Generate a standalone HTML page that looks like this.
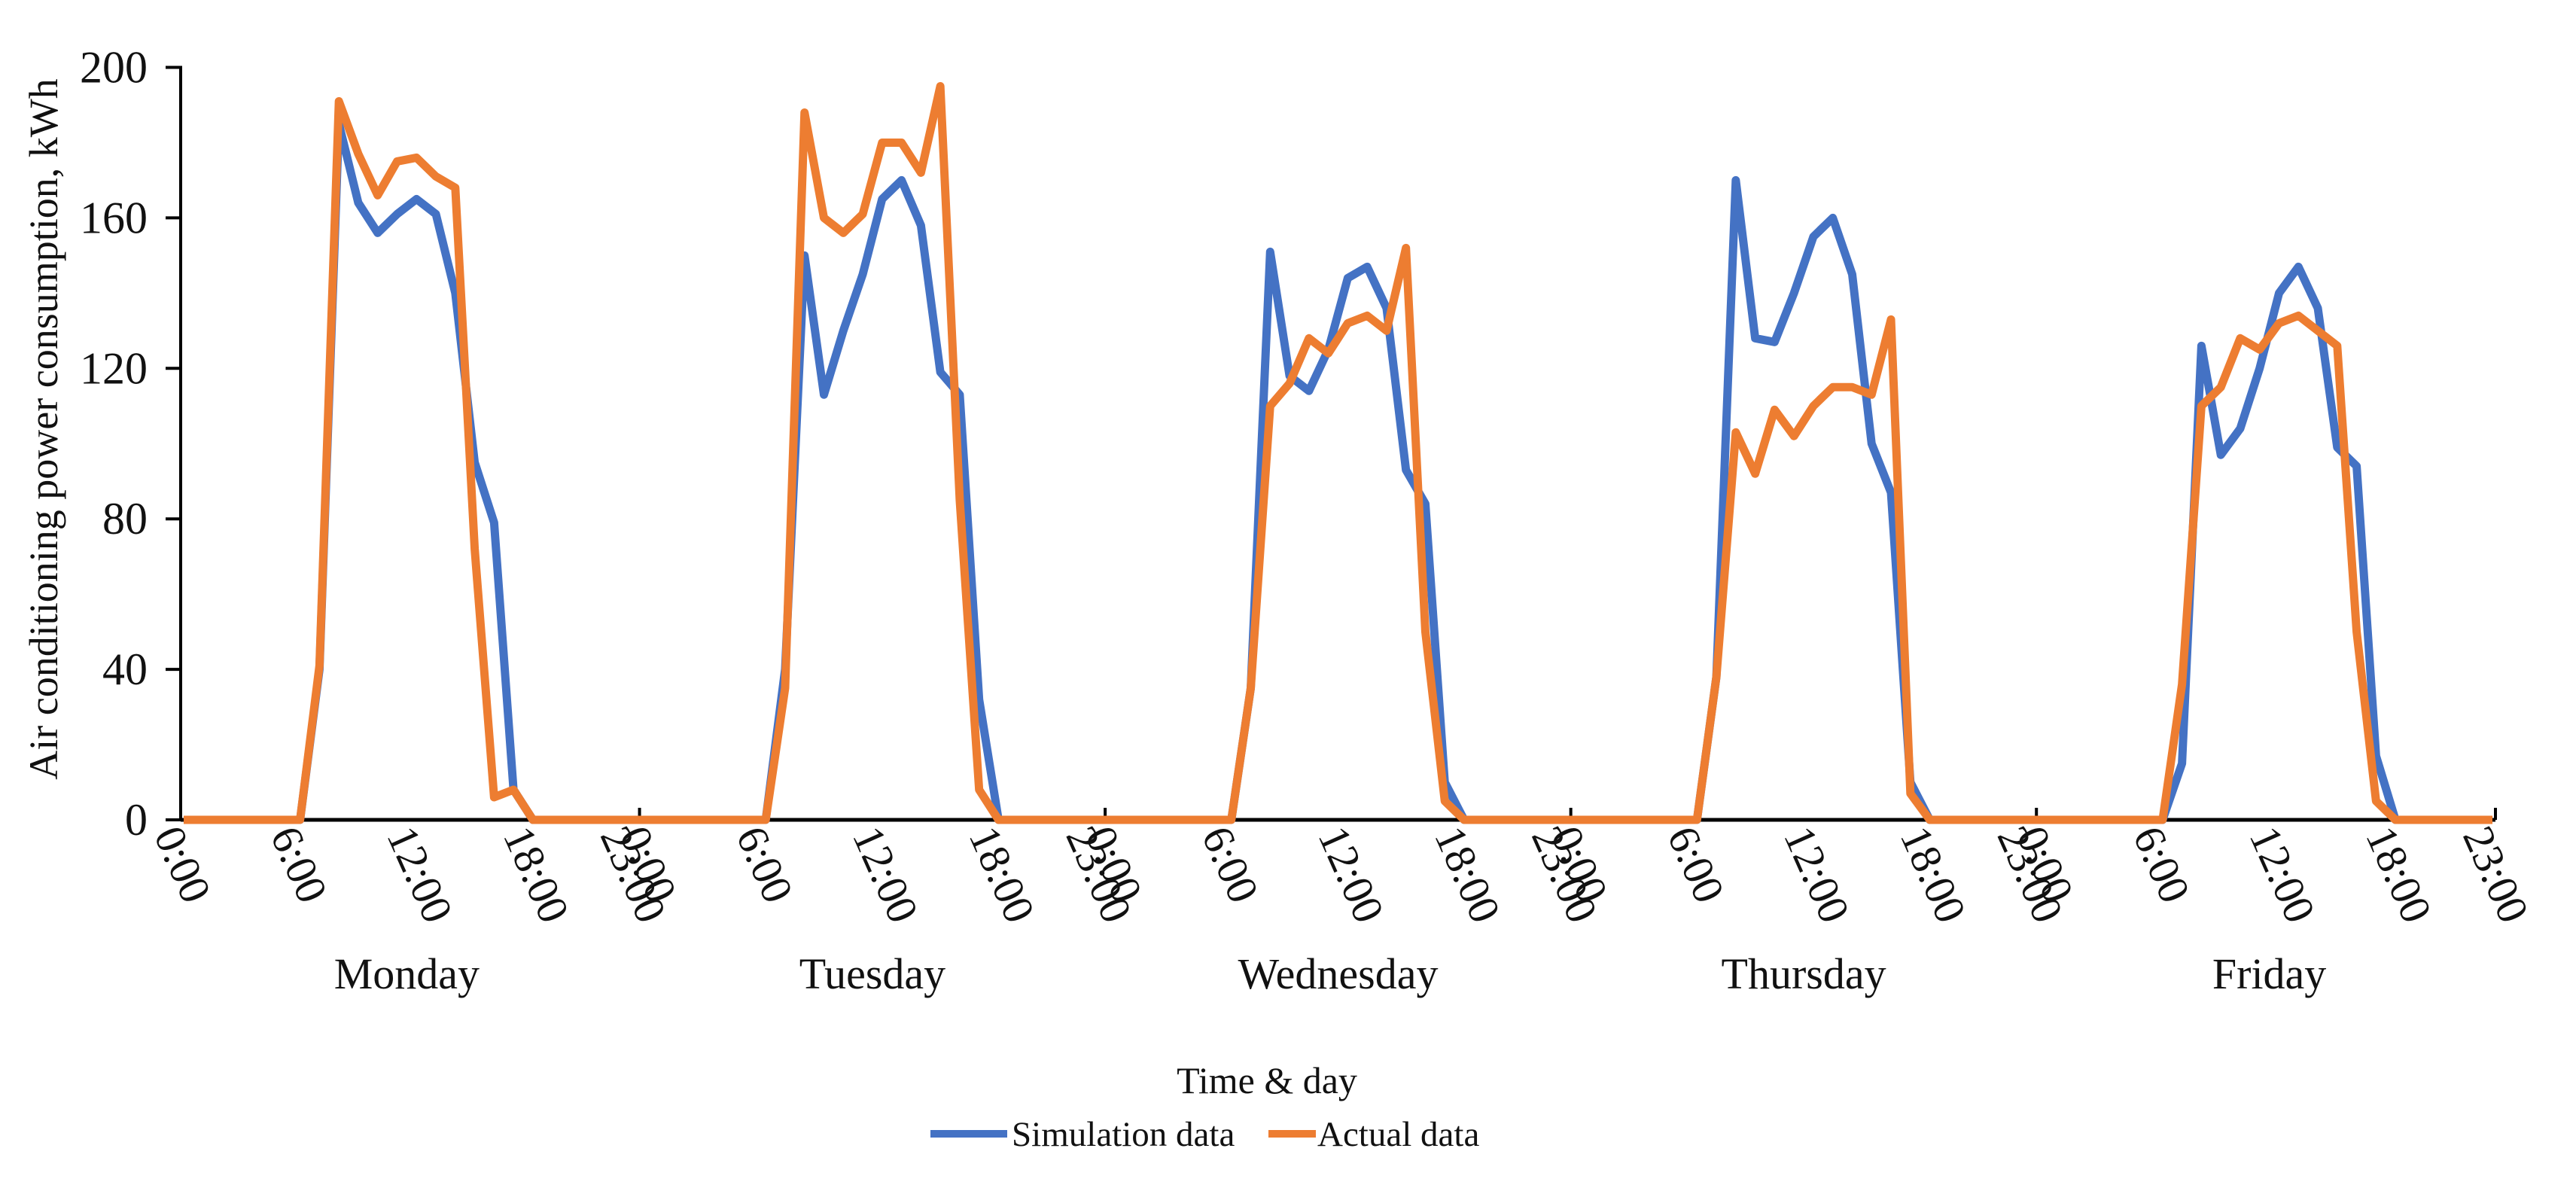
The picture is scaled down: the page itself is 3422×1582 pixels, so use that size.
<!DOCTYPE html>
<html><head><meta charset="utf-8"><style>
html,body{margin:0;padding:0;background:#fff;}
svg{display:block;font-family:"Liberation Serif","Times New Roman",serif;}
</style></head><body>
<svg id="chart" width="3422" height="1582" viewBox="0 0 3422 1582" xmlns="http://www.w3.org/2000/svg">
<g id="axes"></g>
<g id="series"></g>
<text transform="translate(76,570) rotate(-90)" text-anchor="middle" font-size="54" fill="#111">Air conditioning power consumption, kWh</text>
<text x="1683" y="1452" text-anchor="middle" font-size="50" fill="#111">Time &amp; day</text>
<g>
<line x1="1236" y1="1506" x2="1338" y2="1506" stroke="#4472C4" stroke-width="10"/>
<text x="1344" y="1522" font-size="47" fill="#111">Simulation data</text>
<line x1="1685" y1="1506" x2="1748" y2="1506" stroke="#ED7D31" stroke-width="10"/>
<text x="1750" y="1522" font-size="47" fill="#111">Actual data</text>
</g>
</svg>
<script>
const days = ["Monday","Tuesday","Wednesday","Thursday","Friday"];
const tickHours = ["0:00","6:00","12:00","18:00","23:00"];
const yTicks = [0,40,80,120,160,200];
const simMon = [0,0,0,0,0,0,0,40,185,164,156,161,165,161,140,95,79,8,0,0,0,0,0,0];
const simTue = [0,0,0,0,0,0,0,40,150,113,130,145,165,170,158,119,113,32,0,0,0,0,0,0];
const simWed = [0,0,0,0,0,0,0,35,151,118,114,125,144,147,136,93,84,10,0,0,0,0,0,0];
const simThu = [0,0,0,0,0,0,0,38,170,128,127,140,155,160,145,100,87,10,0,0,0,0,0,0];
const simFri = [0,0,0,0,0,0,0,15,126,97,104,120,140,147,136,99,94,17,0,0,0,0,0,0];
const actMon = [0,0,0,0,0,0,0,41,191,177,166,175,176,171,168,72,6,8,0,0,0,0,0,0];
const actTue = [0,0,0,0,0,0,0,35,188,160,156,161,180,180,172,195,85,8,0,0,0,0,0,0];
const actWed = [0,0,0,0,0,0,0,35,110,116,128,124,132,134,130,152,50,5,0,0,0,0,0,0];
const actThu = [0,0,0,0,0,0,0,38,103,92,109,102,110,115,115,113,133,7,0,0,0,0,0,0];
const actFri = [0,0,0,0,0,0,0,36,110,115,128,125,132,134,130,126,50,5,0,0,0,0,0,0];

const NS="http://www.w3.org/2000/svg";
const X0=244, X1=3311, Y0=1089, Y1=89.5, YMAX=200;
const sim=[].concat(simMon,simTue,simWed,simThu,simFri);
const act=[].concat(actMon,actTue,actWed,actThu,actFri);
const N=sim.length;
function xS(i){return X0+i*(X1-X0)/(N-1);}
function yS(v){return Y0-(v/YMAX)*(Y0-Y1);}
function mk(tag,attrs,parent){const e=document.createElementNS(NS,tag);for(const k in attrs)e.setAttribute(k,attrs[k]);parent.appendChild(e);return e;}
const axes=document.getElementById('axes');
const ax=mk('line',{x1:240,y1:Y1-2,x2:240,y2:Y0,stroke:'#000','stroke-width':4},axes);


const xl=mk('line',{x1:240,y1:Y0,x2:X1+4,y2:Y0,stroke:'#000','stroke-width':5},axes);


yTicks.forEach(v=>{
  const t=mk('line',{x1:220,y1:yS(v),x2:240,y2:yS(v),stroke:'#000','stroke-width':4},axes);
  
  
  const l=mk('text',{x:196,y:yS(v)+20,'text-anchor':'end','font-size':60,fill:'#111'},axes);
  l.textContent=v;
  
  
});
const hourIdx=[0,6,12,18,23];
const perDay=N/days.length;
days.forEach((d,di)=>{
  tickHours.forEach((h,hi)=>{
    const x=xS(di*perDay+hourIdx[hi]);
    const l=mk('text',{transform:`translate(${x-40},${Y0+20}) rotate(66)`,'font-size':58,fill:'#111'},axes);
    l.textContent=h;
    
    
  });
  const bx=xS(di*perDay);
  if(di>0){
    const t=mk('line',{x1:bx-13,y1:Y0,x2:bx-13,y2:Y0-16,stroke:'#000','stroke-width':4},axes);
    
    
  }
  const c=xS(di*perDay+11.5);
  const dl=mk('text',{x:c,y:1313,'text-anchor':'middle','font-size':58,fill:'#111'},axes);
  dl.textContent=d;
  
  
});
const et=mk('line',{x1:X1+4,y1:Y0,x2:X1+4,y2:Y0-16,stroke:'#000','stroke-width':4},axes);


const series=document.getElementById('series');
[[sim,'#4472C4','simulation-line'],[act,'#ED7D31','actual-line']].forEach(([arr,col,name])=>{
  const p=mk('polyline',{points:arr.map((v,i)=>xS(i)+','+yS(v)).join(' '),fill:'none',stroke:col,'stroke-width':11,'stroke-linejoin':'round'},series);
  
  
});
</script>
</body></html>
